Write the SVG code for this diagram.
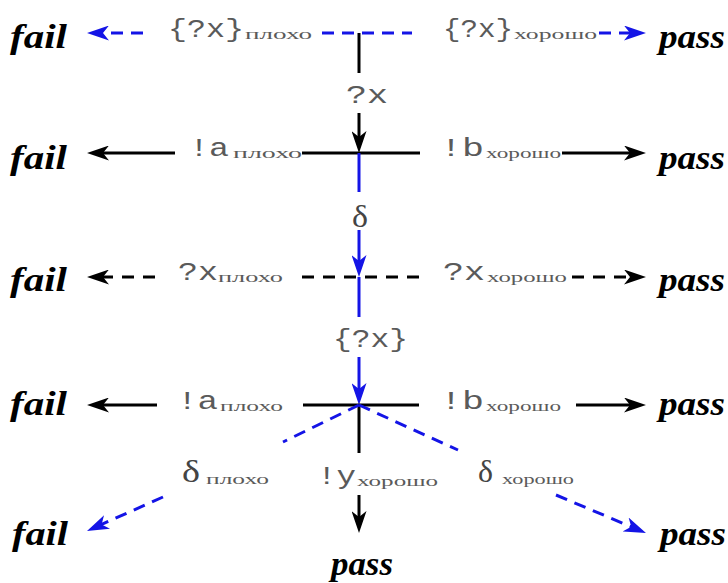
<svg xmlns="http://www.w3.org/2000/svg" width="728" height="583" viewBox="0 0 728 583">
<style>
.term{font-family:"Liberation Serif",serif;font-weight:bold;font-style:italic;font-size:33px;fill:#000}
.lbl{font-family:"Liberation Mono",monospace;font-size:26px;fill:#5a5a5a}
.sub{font-family:"Liberation Serif",serif;font-size:15px;fill:#5a5a5a}
.dl{font-family:"Liberation Serif",serif;font-size:32px;fill:#444}
.k{stroke:#000;stroke-width:3;fill:none}
.b{stroke:#1414e6;stroke-width:3;fill:none}
.kd{stroke:#000;stroke-width:3;fill:none;stroke-dasharray:12 9}
.bd{stroke:#1414e6;stroke-width:3;fill:none;stroke-dasharray:12 8}
</style>
<defs>
<marker id="ak" viewBox="0 0 22 15" markerUnits="userSpaceOnUse" markerWidth="22" markerHeight="15" refX="14" refY="7.5" orient="auto">
<path d="M0,0 L22,7.5 L0,15 L6,7.5 z" fill="#000"/>
</marker>
<marker id="ab" viewBox="0 0 22 15" markerUnits="userSpaceOnUse" markerWidth="22" markerHeight="15" refX="14" refY="7.5" orient="auto">
<path d="M0,0 L22,7.5 L0,15 L6,7.5 z" fill="#1414e6"/>
</marker>
</defs>

<g id="connectors">
<line class="bd" x1="143" y1="33" x2="95" y2="33" marker-end="url(#ab)"/>
<line class="bd" x1="322" y1="33" x2="412" y2="33"/>
<line class="bd" x1="599" y1="33" x2="638" y2="33" marker-end="url(#ab)"/>
<line class="k" x1="359" y1="33" x2="359" y2="73"/>
<line class="k" x1="359" y1="113" x2="359" y2="145" marker-end="url(#ak)"/>

<line class="k" x1="175" y1="153" x2="95" y2="153" marker-end="url(#ak)"/>
<line class="k" x1="302" y1="153" x2="420" y2="153"/>
<line class="k" x1="562" y1="153" x2="638" y2="153" marker-end="url(#ak)"/>
<line class="b" x1="359" y1="153" x2="359" y2="192"/>
<line class="b" x1="359" y1="230" x2="359" y2="269" marker-end="url(#ab)"/>

<line class="kd" x1="155" y1="277" x2="95" y2="277" marker-end="url(#ak)"/>
<line class="kd" x1="302" y1="277" x2="420" y2="277"/>
<line class="kd" x1="572" y1="277" x2="638" y2="277" marker-end="url(#ak)"/>
<line class="b" x1="359" y1="277" x2="359" y2="317"/>
<line class="b" x1="359" y1="357" x2="359" y2="397" marker-end="url(#ab)"/>

<line class="k" x1="157" y1="405" x2="95" y2="405" marker-end="url(#ak)"/>
<line class="k" x1="303" y1="405" x2="419" y2="405"/>
<line class="k" x1="576" y1="405" x2="638" y2="405" marker-end="url(#ak)"/>
<line class="k" x1="359" y1="405" x2="359" y2="453"/>
<line class="bd" x1="359" y1="405" x2="283" y2="442"/>
<line class="bd" x1="359" y1="405" x2="458" y2="450"/>
<line class="k" x1="359" y1="495" x2="359" y2="525" marker-end="url(#ak)"/>
<line class="bd" x1="163" y1="497" x2="94.3" y2="527.7" marker-end="url(#ab)"/>
<line class="bd" x1="556" y1="495" x2="638.6" y2="529.9" marker-end="url(#ab)"/>
</g>

<g id="fail1"><text class="term" x="10" y="48" textLength="57" lengthAdjust="spacingAndGlyphs">fail</text></g>
<g id="pass1"><text class="term" x="659" y="48" textLength="66" lengthAdjust="spacingAndGlyphs">pass</text></g>
<g id="fail2"><text class="term" x="10" y="169" textLength="57" lengthAdjust="spacingAndGlyphs">fail</text></g>
<g id="pass2"><text class="term" x="659" y="169" textLength="66" lengthAdjust="spacingAndGlyphs">pass</text></g>
<g id="fail3"><text class="term" x="10" y="291" textLength="57" lengthAdjust="spacingAndGlyphs">fail</text></g>
<g id="pass3"><text class="term" x="659" y="291" textLength="66" lengthAdjust="spacingAndGlyphs">pass</text></g>
<g id="fail4"><text class="term" x="10" y="415" textLength="57" lengthAdjust="spacingAndGlyphs">fail</text></g>
<g id="pass4"><text class="term" x="659" y="415" textLength="66" lengthAdjust="spacingAndGlyphs">pass</text></g>
<g id="fail5"><text class="term" x="12" y="545" textLength="56" lengthAdjust="spacingAndGlyphs">fail</text></g>
<g id="pass5"><text class="term" x="660" y="545" textLength="66" lengthAdjust="spacingAndGlyphs">pass</text></g>
<g id="pass6"><text class="term" x="331" y="575" textLength="62" lengthAdjust="spacingAndGlyphs">pass</text></g>

<g id="lbl-r1-bad"><text class="lbl" x="168" y="37" textLength="76" lengthAdjust="spacingAndGlyphs">{?x}</text><text class="sub" x="245" y="39" textLength="67" lengthAdjust="spacingAndGlyphs">плохо</text></g>
<g id="lbl-r1-good"><text class="lbl" x="443" y="37" textLength="70" lengthAdjust="spacingAndGlyphs">{?x}</text><text class="sub" x="514" y="39" textLength="83" lengthAdjust="spacingAndGlyphs">хорошо</text></g>
<g id="lbl-in1"><text class="lbl" x="346" y="103" textLength="42" lengthAdjust="spacingAndGlyphs">?x</text></g>
<g id="lbl-r2-bad"><text class="lbl" x="189" y="156" textLength="40" lengthAdjust="spacingAndGlyphs">!a</text><text class="sub" x="233" y="158" textLength="69" lengthAdjust="spacingAndGlyphs">плохо</text></g>
<g id="lbl-r2-good"><text class="lbl" x="440" y="156" textLength="44" lengthAdjust="spacingAndGlyphs">!b</text><text class="sub" x="486" y="158" textLength="75" lengthAdjust="spacingAndGlyphs">хорошо</text></g>
<g id="lbl-delta1"><text class="dl" x="352" y="227" textLength="16" lengthAdjust="spacingAndGlyphs">δ</text></g>
<g id="lbl-r3-bad"><text class="lbl" x="178" y="280" textLength="40" lengthAdjust="spacingAndGlyphs">?x</text><text class="sub" x="218" y="282" textLength="65" lengthAdjust="spacingAndGlyphs">плохо</text></g>
<g id="lbl-r3-good"><text class="lbl" x="443" y="280" textLength="42" lengthAdjust="spacingAndGlyphs">?x</text><text class="sub" x="487" y="282" textLength="80" lengthAdjust="spacingAndGlyphs">хорошо</text></g>
<g id="lbl-in3"><text class="lbl" x="333" y="347" textLength="75" lengthAdjust="spacingAndGlyphs">{?x}</text></g>
<g id="lbl-r4-bad"><text class="lbl" x="177" y="409" textLength="41" lengthAdjust="spacingAndGlyphs">!a</text><text class="sub" x="220" y="411" textLength="63" lengthAdjust="spacingAndGlyphs">плохо</text></g>
<g id="lbl-r4-good"><text class="lbl" x="440" y="409" textLength="44" lengthAdjust="spacingAndGlyphs">!b</text><text class="sub" x="486" y="411" textLength="75" lengthAdjust="spacingAndGlyphs">хорошо</text></g>
<g id="lbl-r5-bad"><text class="dl" x="182" y="482" textLength="18" lengthAdjust="spacingAndGlyphs">δ</text><text class="sub" x="206" y="484" textLength="63" lengthAdjust="spacingAndGlyphs">плохо</text></g>
<g id="lbl-r5-out"><text class="lbl" x="317" y="484" textLength="39" lengthAdjust="spacingAndGlyphs">!y</text><text class="sub" x="357" y="486" textLength="81" lengthAdjust="spacingAndGlyphs">хорошо</text></g>
<g id="lbl-r5-good"><text class="dl" x="478" y="482" textLength="15" lengthAdjust="spacingAndGlyphs">δ</text><text class="sub" x="502" y="484" textLength="72" lengthAdjust="spacingAndGlyphs">хорошо</text></g>
</svg>
